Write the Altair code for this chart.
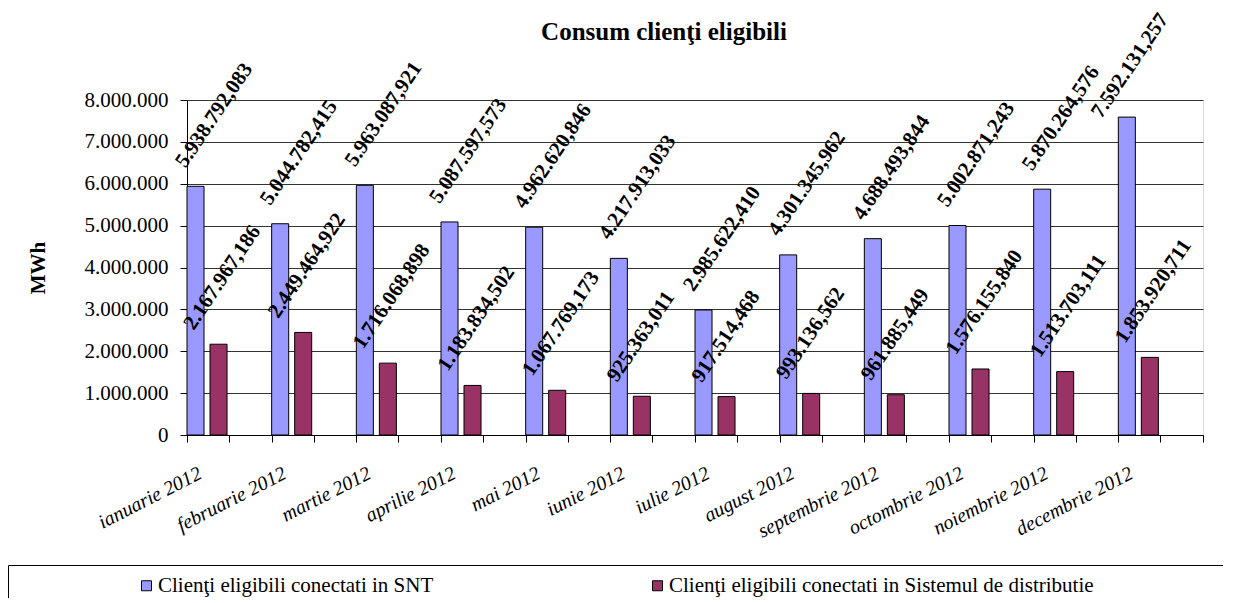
import altair as alt
import pandas as pd

months = ["ianuarie 2012", "februarie 2012", "martie 2012", "aprilie 2012", "mai 2012",
          "iunie 2012", "iulie 2012", "august 2012", "septembrie 2012", "octombrie 2012",
          "noiembrie 2012", "decembrie 2012"]
snt = [5938792.083, 5044782.415, 5963087.921, 5087597.573, 4962620.846, 4217913.033,
       2985622.410, 4301345.962, 4688493.844, 5002871.243, 5870264.576, 7592131.257]
dist = [2167967.186, 2449464.922, 1716068.898, 1183834.502, 1067769.173, 925363.011,
        917514.468, 993136.562, 961885.449, 1576155.840, 1513703.111, 1853920.711]
series = ["Clienţi eligibili conectati in SNT",
          "Clienţi eligibili conectati in Sistemul de distributie"]
colors = ["#9999FF", "#993366"]
y_ticks = [0, 1000000, 2000000, 3000000, 4000000, 5000000, 6000000, 7000000, 8000000]


def fmt(v):
    s = f"{v:,.3f}"
    return s.replace(",", "_").replace(".", ",").replace("_", ".")


rows = []
for m, a, b in zip(months, snt, dist):
    rows.append({"month": m, "series": series[0], "value": a, "label": fmt(a)})
    rows.append({"month": m, "series": series[1], "value": b, "label": fmt(b)})
df = pd.DataFrame(rows)

FONT = "Liberation Serif, Times New Roman, serif"
EM = "\u2003"
ZW = "\u200b"

x_scale = alt.Scale(paddingInner=0, paddingOuter=0)
x_main = alt.X("month:N", sort=months, scale=x_scale,
               axis=alt.Axis(title=None, orient="bottom", tickBand="extent", labelAngle=333,
                             labelAlign="right", labelBaseline="top", labelOffset=-34,
                             labelPadding=21, tickSize=7, labelFont=FONT,
                             labelFontStyle="italic", labelFontSize=20, labelColor="black",
                             domainColor="black", tickColor="black", grid=False,
                             labelLimit=400, labelOverlap=False))
x_mid = alt.X("month:N", sort=months, scale=x_scale,
              axis=alt.Axis(title=None, orient="bottom", labels=False, domain=False,
                            tickSize=7, tickColor="black", grid=False))
x_none = alt.X("month:N", sort=months, scale=x_scale, axis=None)

xoff = alt.XOffset("series:N",
                   scale=alt.Scale(domain=series + ["_"], paddingInner=0.26,
                                   paddingOuter=0.47, align=0))

y_axis = alt.Axis(title="MWh", values=y_ticks, grid=True, gridColor="#333333",
                  gridWidth=1, domainColor="black", tickColor="black", tickSize=7,
                  labelPadding=12, labelFont=FONT, labelFontSize=21, labelColor="black",
                  labelExpr="replace(replace(format(datum.value, ','), ',', '.'), ',', '.')",
                  titleFont=FONT, titleFontSize=21, titleFontWeight="bold",
                  titleColor="black", titleX=-149, titleY=167.5, titleAngle=270,
                  titleAlign="center", titleBaseline="middle")
y_scale = alt.Scale(domain=[0, 8000000], nice=False)

color = alt.Color("series:N",
                  scale=alt.Scale(domain=series, range=colors),
                  legend=alt.Legend(orient="none", legendX=-179, legendY=465,
                                    direction="horizontal", title=ZW + EM * 5 + ZW,
                                    titleOrient="left", titleFont=FONT, titleFontSize=21,
                                    titlePadding=13, strokeColor="black", padding=10,
                                    symbolType="square", symbolSize=100,
                                    symbolStrokeColor="black", symbolStrokeWidth=1,
                                    labelFont=FONT, labelFontSize=21, labelColor="black",
                                    labelOffset=1, labelLimit=1200, columnPadding=87,
                                    labelExpr="datum.label + '" + EM * 6 + ZW + "'"))

base = alt.Chart(df)

bars = base.mark_bar(stroke="black", strokeWidth=1).encode(
    x=x_main, xOffset=xoff,
    y=alt.Y("value:Q", scale=y_scale, axis=y_axis),
    color=color,
)

TOP = 7000000  # labels of taller bars are pulled inside the chart, as in the original

lab_snt = base.transform_filter(
    (alt.datum.series == series[0]) & (alt.datum.value <= TOP)
).mark_text(angle=304, align="left", baseline="middle", dx=9, dy=-24, font=FONT,
            fontWeight="bold", fontSize=21, color="black").encode(
    x=x_mid, xOffset=xoff,
    y=alt.Y("value:Q", scale=y_scale, axis=y_axis),
    text="label:N",
)

lab_snt_top = base.transform_filter(
    (alt.datum.series == series[0]) & (alt.datum.value > TOP)
).mark_text(angle=304, align="left", baseline="middle", dx=-16, dy=-26, font=FONT,
            fontWeight="bold", fontSize=21, color="black").encode(
    x=x_none, xOffset=xoff,
    y=alt.Y("value:Q", scale=y_scale, axis=y_axis),
    text="label:N",
)

lab_dist = base.transform_filter(alt.datum.series == series[1]).mark_text(
    angle=304, align="left", baseline="middle", dx=-3, dy=-34, font=FONT,
    fontWeight="bold", fontSize=21, color="black").encode(
    x=x_none, xOffset=xoff,
    y=alt.Y("value:Q", scale=y_scale, axis=y_axis),
    text="label:N",
)

chart = alt.layer(bars, lab_snt, lab_snt_top, lab_dist).resolve_axis(
    x="independent"
).properties(
    width=1016, height=335,
    padding={"left": 179, "top": 92, "right": 20, "bottom": 163},
    autosize=alt.AutoSizeParams(type="none"),
    title=alt.Title("Consum clienţi eligibili", font=FONT, fontSize=25,
                    fontWeight="bold", color="black", anchor="middle", frame="group",
                    dy=39, dx=-31),
).configure_view(fill="#C0C0C0", strokeWidth=0).configure(background="white", font=FONT)

chart.save("out.html", embed_options={"renderer": "svg", "actions": False})
